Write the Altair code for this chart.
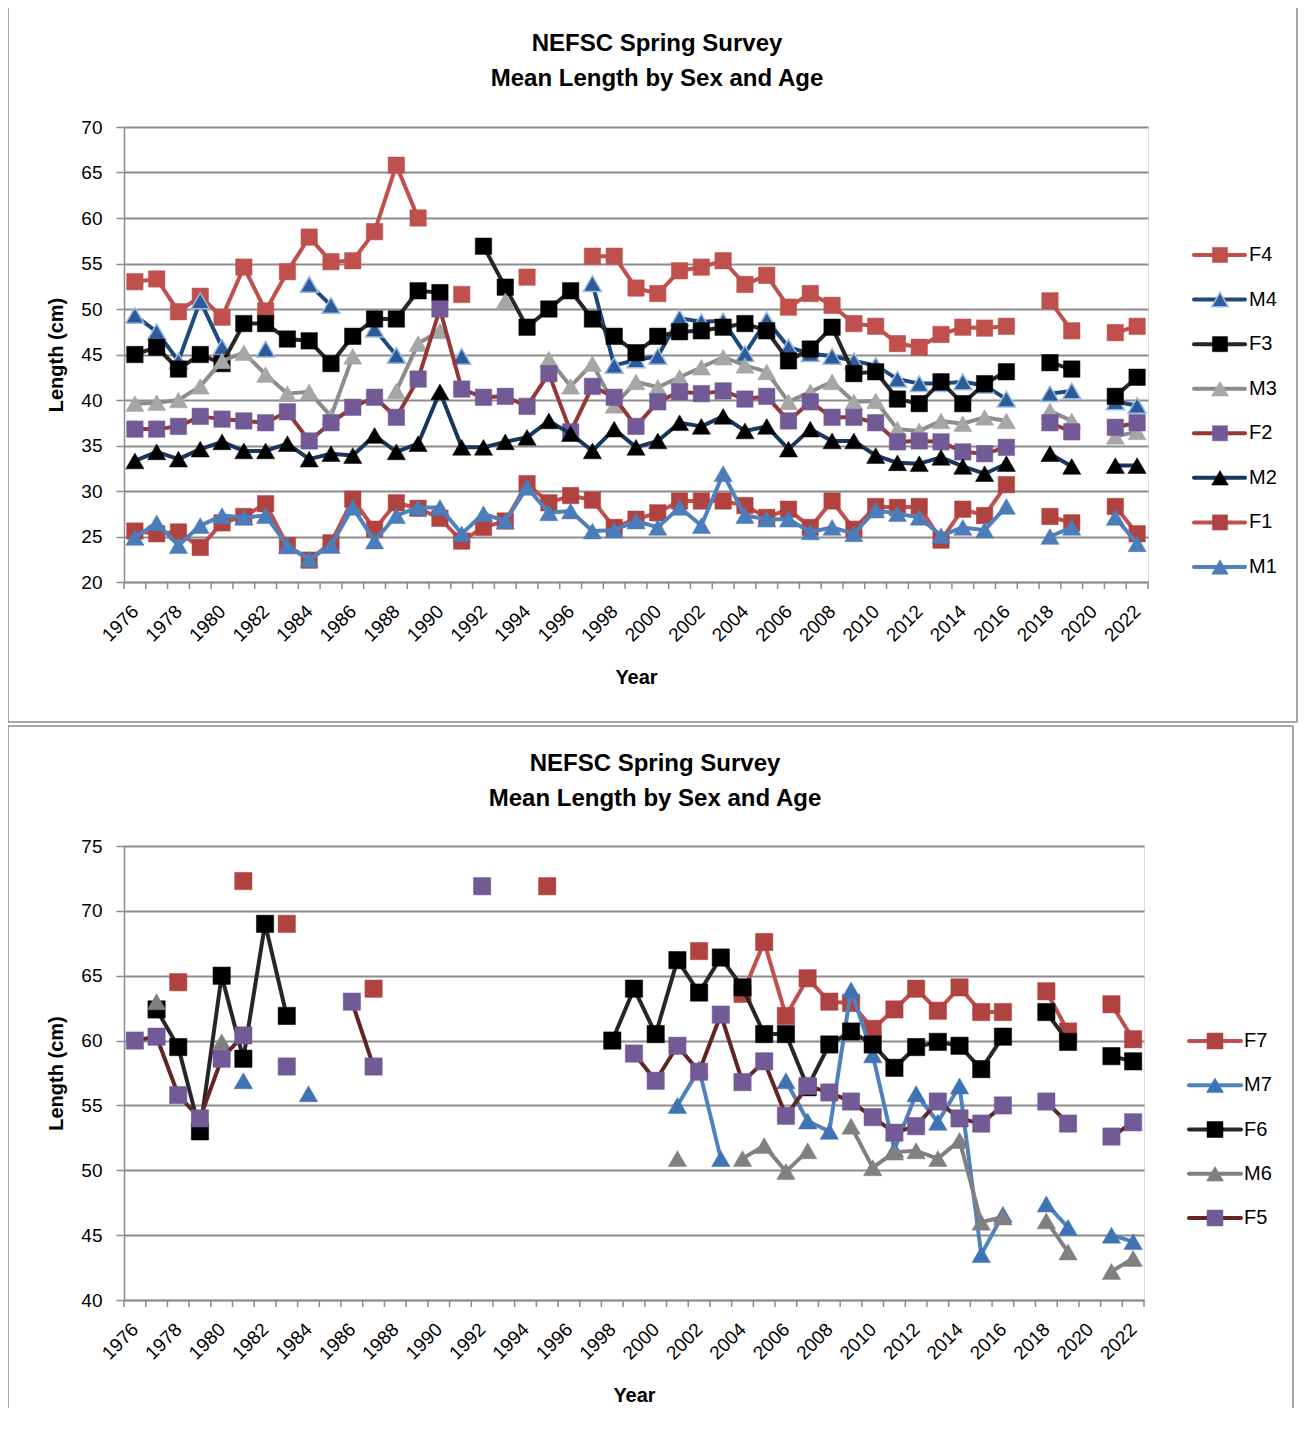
import altair as alt
import pandas as pd

YEARS = list(range(1976, 2023))

TITLE_LINES = ["NEFSC Spring Survey", "Mean Length by Sex and Age"]
X_TITLE = "Year"
Y_TITLE = "Length (cm)"

# ---------------- top panel (ages 1-4) ----------------
TOP_SERIES = ["F4", "M4", "F3", "M3", "F2", "M2", "F1", "M1"]
F4 = [53.0, 53.3, 49.7, 51.4, 49.1, 54.6, 49.8, 54.1, 57.9, 55.2,
      55.3, 58.5, 65.8, 60.0, None, 51.6, None, None, 53.5, None,
      None, 55.8, 55.8, 52.3, 51.7, 54.2, 54.6, 55.3, 52.7, 53.7,
      50.2, 51.7, 50.4, 48.4, 48.1, 46.2, 45.8, 47.2, 48.0, 47.9,
      48.1, None, 50.9, 47.6, None, 47.4, 48.1]
M4 = [49.3, 47.5, 44.3, 50.9, 45.8, None, 45.6, None, 52.7, 50.4,
      None, 47.8, 44.9, None, None, 44.8, None, None, None, None,
      None, 52.8, 43.8, 44.4, 44.8, 49.0, 48.6, 48.7, 45.1, 48.8,
      45.8, 45.1, 44.8, 44.3, 43.8, 42.3, 41.8, 41.8, 42.0, 41.6,
      40.1, None, 40.7, 41.0, None, 39.8, 39.4]
F3 = [45.0, 45.8, 43.4, 45.0, 44.0, 48.4, 48.4, 46.7, 46.5, 44.0,
      47.0, 48.9, 48.9, 52.0, 51.8, None, 56.9, 52.4, 48.0, 50.0,
      52.0, 48.9, 47.0, 45.2, 47.0, 47.5, 47.6, 48.0, 48.4, 47.6,
      44.3, 45.6, 48.0, 42.9, 43.1, 40.1, 39.6, 42.0, 39.6, 41.8,
      43.1, None, 44.1, 43.4, None, 40.4, 42.5]
M3 = [39.6, 39.7, 40.0, 41.5, 44.3, 45.2, 42.8, 40.7, 40.9, 38.2,
      44.8, None, 41.0, 46.2, 47.6, None, None, 50.9, None, 44.5,
      41.5, 44.0, 39.4, 42.0, 41.4, 42.5, 43.6, 44.7, 43.8, 43.1,
      39.8, 40.9, 42.0, 39.8, 39.9, 36.8, 36.6, 37.7, 37.4, 38.1,
      37.7, None, 38.8, 37.7, None, 36.0, 36.5]
F2 = [36.8, 36.8, 37.1, 38.2, 37.9, 37.7, 37.5, 38.7, 35.5, 37.5,
      39.2, 40.3, 38.1, 42.3, 50.0, 41.2, 40.3, 40.4, 39.3, 42.9,
      36.5, 41.5, 40.3, 37.1, 39.8, 40.9, 40.7, 41.0, 40.1, 40.4,
      37.7, 39.8, 38.1, 38.1, 37.5, 35.4, 35.5, 35.4, 34.3, 34.1,
      34.8, None, 37.5, 36.5, None, 37.0, 37.5]
M2 = [33.3, 34.3, 33.5, 34.6, 35.4, 34.4, 34.4, 35.2, 33.5, 34.1,
      33.9, 36.1, 34.3, 35.2, 40.9, 34.8, 34.8, 35.4, 35.9, 37.7,
      36.3, 34.4, 36.8, 34.8, 35.5, 37.5, 37.1, 38.2, 36.6, 37.1,
      34.6, 36.8, 35.5, 35.5, 33.9, 33.1, 33.0, 33.7, 32.7, 31.9,
      33.0, None, 34.1, 32.7, None, 32.8, 32.8]
F1 = [25.6, 25.3, 25.5, 23.8, 26.5, 27.2, 28.6, 24.0, 22.4, 24.3,
      29.1, 25.8, 28.7, 28.1, 27.0, 24.5, 26.0, 26.7, 30.8, 28.7,
      29.5, 29.0, 26.0, 26.9, 27.6, 28.9, 28.9, 28.9, 28.4, 27.1,
      28.0, 26.0, 28.9, 25.8, 28.3, 28.2, 28.3, 24.6, 28.0, 27.3,
      30.7, None, 27.2, 26.5, None, 28.3, 25.3]
M1 = [24.9, 26.5, 24.0, 26.2, 27.3, 27.1, 27.3, 24.0, 22.5, 24.0,
      28.2, 24.5, 27.3, 28.2, 28.2, 25.3, 27.5, 26.7, 30.4, 27.6,
      27.8, 25.6, 25.7, 26.7, 26.0, 28.2, 26.2, 31.9, 27.3, 26.9,
      26.9, 25.5, 26.0, 25.3, 27.9, 27.5, 27.1, 25.1, 26.0, 25.7,
      28.3, None, 25.0, 26.0, None, 27.1, 24.2]
TOP_VALUES = [F4, M4, F3, M3, F2, M2, F1, M1]
TOP_Y_TICKS = list(range(20, 71, 5))

# ---------------- bottom panel (ages 5-7) ----------------
BOTTOM_SERIES = ["F7", "M7", "F6", "M6", "F5"]
F7 = [None, None, 64.5, None, None, 72.3, None, 69.0, None, None,
      None, 64.0, None, None, None, None, None, None, None, 71.9,
      None, None, None, None, None, None, 66.9, None, 63.6, 67.6,
      61.9, 64.8, 63.0, 62.9, 60.9, 62.4, 64.0, 62.3, 64.1, 62.2,
      62.2, None, 63.8, 60.7, None, 62.8, 60.1]
M7 = [None, None, None, None, None, 56.9, None, None, 55.9, None,
      None, None, None, None, None, None, None, None, None, None,
      None, None, None, None, None, 55.0, 57.8, 50.9, None, None,
      56.9, 53.8, 53.0, 63.9, 58.9, 51.6, 55.9, 53.7, 56.5, 43.5,
      46.6, None, 47.4, 45.6, None, 45.0, 44.5]
F6 = [None, 62.4, 59.5, 53.0, 65.0, 58.6, 69.0, 61.9, None, None,
      None, None, None, None, None, None, None, None, None, None,
      None, None, 60.0, 64.0, 60.5, 66.2, 63.7, 66.4, 64.1, 60.5,
      60.5, 56.4, 59.7, 60.7, 59.7, 57.9, 59.5, 59.9, 59.6, 57.8,
      60.3, None, 62.2, 59.9, None, 58.8, 58.4]
M6 = [None, 63.0, None, None, 59.9, None, None, None, None, None,
      None, None, None, None, None, None, None, None, None, None,
      None, None, None, None, None, 50.9, None, None, 50.9, 51.9,
      49.9, 51.5, None, 53.4, 50.2, 51.4, 51.5, 50.9, 52.3, 46.0,
      46.4, None, 46.1, 43.7, None, 42.2, 43.2]
F5 = [60.0, 60.3, 55.8, 54.0, 58.6, 60.4, None, 58.0, None, None,
      63.0, 58.0, None, None, None, None, 71.9, None, None, None,
      None, None, None, 59.0, 56.9, 59.6, 57.6, 62.0, 56.8, 58.4,
      54.2, 56.5, 56.0, 55.3, 54.1, 52.9, 53.4, 55.3, 54.0, 53.6,
      55.0, None, 55.3, 53.6, None, 52.6, 53.7]
BOTTOM_VALUES = [F7, M7, F6, M6, F5]
BOTTOM_Y_TICKS = list(range(40, 76, 5))

# ---------------- styles ----------------
FONT = "Liberation Sans"
GRID = "#8C8C8C"
BORDER = "#8A8A8A"

STYLE = {
    "F4": dict(line="#C0504D", shape="square", fill="#C0504D", stroke="#C0504D"),
    "M4": dict(line="#1F497D", shape="triangle-up", fill="#2B5C99", stroke="#9BBBE4"),
    "F3": dict(line="#262626", shape="square", fill="#000000", stroke="#000000"),
    "M3": dict(line="#8C8C8C", shape="triangle-up", fill="#A6A6A6", stroke="#A6A6A6"),
    "F2": dict(line="#953735", shape="square", fill="#725A97", stroke="#725A97"),
    "M2": dict(line="#17375E", shape="triangle-up", fill="#000000", stroke="#000000"),
    "F1": dict(line="#C0504D", shape="square", fill="#B0423F", stroke="#B0423F"),
    "M1": dict(line="#4F81BD", shape="triangle-up", fill="#4A7DBA", stroke="#4A7DBA"),
    "F7": dict(line="#C0504D", shape="square", fill="#B0423F", stroke="#B0423F"),
    "M7": dict(line="#4F81BD", shape="triangle-up", fill="#3F74B4", stroke="#3F74B4"),
    "F6": dict(line="#262626", shape="square", fill="#000000", stroke="#000000"),
    "M6": dict(line="#808080", shape="triangle-up", fill="#808080", stroke="#808080"),
    "F5": dict(line="#632523", shape="square", fill="#725A97", stroke="#725A97"),
}


def long_frame(names, lists):
    rows = []
    for order, (name, vals) in enumerate(zip(names, lists)):
        seg = 0
        prev = False
        for yr, v in zip(YEARS, vals):
            if v is None:
                if prev:
                    seg += 1
                prev = False
                continue
            rows.append({"series": name, "year": yr, "value": v,
                         "seg": f"{name}-{seg}", "order": order})
            prev = True
    return pd.DataFrame(rows)


def panel(names, lists, ydom, yticks, w, h, box, closed, title_pos, leg, sq_size, tri_size):
    df = long_frame(names, lists)
    x_enc = alt.X(
        "year:Q",
        scale=alt.Scale(domain=[YEARS[0] - 0.5, YEARS[-1] + 0.5], nice=False, zero=False),
        axis=alt.Axis(
            values=YEARS[::2], format="d", labelAngle=-45, labelAlign="right",
            labelBaseline="middle", labelPadding=26, tickSize=0, grid=False,
            domainColor=GRID, domainWidth=1.5, labelFont=FONT, labelFontSize=19,
            labelColor="#000000", labelOverlap=False, labelFlush=False,
            title=X_TITLE, titleFont=FONT, titleFontSize=20, titleFontWeight="bold",
            titleColor="#000000", titleX=w / 2, titleY=95, titleBaseline="middle",
            titleAlign="center",
        ),
    )
    y_enc = alt.Y(
        "value:Q",
        scale=alt.Scale(domain=ydom, nice=False, zero=False),
        axis=alt.Axis(
            values=yticks, grid=True, gridColor=GRID, gridWidth=2, tickSize=8,
            tickColor=GRID, tickWidth=1.5, domainColor=GRID, domainWidth=1.5,
            labelFont=FONT, labelFontSize=19, labelColor="#000000", labelPadding=14,
            title=Y_TITLE, titleFont=FONT, titleFontSize=20, titleFontWeight="bold",
            titleColor="#000000", titleX=-68, titleY=h / 2, titleAngle=-90,
            titleBaseline="middle", titleAlign="center",
        ),
    )

    one = pd.DataFrame({"k": [0]})
    bl, br, bt, bb = box
    frame = alt.Chart(one).mark_rule(color=BORDER, strokeWidth=1.5)
    layers = [
        frame.encode(x=alt.value(bl), x2=alt.value(br), y=alt.value(bt)),
        frame.encode(x=alt.value(bl), y=alt.value(bt), y2=alt.value(bb)),
        frame.encode(x=alt.value(br), y=alt.value(bt), y2=alt.value(bb)),
    ]
    if closed:
        layers.append(frame.encode(x=alt.value(bl), x2=alt.value(br), y=alt.value(bb)))
    for name in names:
        st = STYLE[name]
        size = sq_size if st["shape"] == "square" else tri_size
        base = alt.Chart(df).transform_filter(alt.datum.series == name)
        layers.append(
            base.mark_line(color=st["line"], strokeWidth=4, strokeJoin="round", strokeCap="round").encode(
                x=x_enc, y=y_enc, detail="seg:N", order="year:Q"
            )
        )
        layers.append(
            base.mark_point(shape=st["shape"], filled=True, fill=st["fill"], stroke=st["stroke"],
                            strokeWidth=1.5 if st["fill"] != st["stroke"] else 0.5,
                            size=size, opacity=1).encode(x=x_enc, y=y_enc)
        )
    bounds = pd.DataFrame({"year": [y - 0.5 for y in YEARS] + [YEARS[-1] + 0.5]})
    layers.append(
        alt.Chart(bounds).mark_rule(color=GRID, strokeWidth=1.5).encode(
            x=x_enc, y=alt.value(h), y2=alt.value(h + 7)
        )
    )
    for i, line in enumerate(TITLE_LINES):
        layers.append(
            alt.Chart(pd.DataFrame({"t": [line]})).mark_text(
                font=FONT, fontSize=24, fontWeight="bold", color="#000000",
                align="center", baseline="middle"
            ).encode(text="t:N", x=alt.value(title_pos[0]), y=alt.value(title_pos[1 + i]))
        )
    plot = alt.layer(*layers)

    leg_df = pd.DataFrame({"series": names, "rank": list(range(len(names)))})
    ly = alt.Y("rank:Q", scale=alt.Scale(domain=[0, len(names) - 1], range=[leg["top"], leg["bottom"]]),
               axis=None)
    leg_layers = []
    for name in names:
        st = STYLE[name]
        size = sq_size if st["shape"] == "square" else tri_size
        b = alt.Chart(leg_df).transform_filter(alt.datum.series == name)
        leg_layers.append(
            b.mark_rule(color=st["line"], strokeWidth=4, strokeCap="round").encode(
                x=alt.value(leg["x0"]), x2=alt.value(leg["x1"]), y=ly
            )
        )
        leg_layers.append(
            b.mark_point(shape=st["shape"], filled=True, fill=st["fill"], stroke=st["stroke"],
                         strokeWidth=1.5 if st["fill"] != st["stroke"] else 0.5,
                         size=size * 0.85, opacity=1).encode(x=alt.value(leg["xm"]), y=ly)
        )
    leg_layers.append(
        alt.Chart(leg_df).mark_text(font=FONT, fontSize=20, color="#000000", align="left",
                                    baseline="middle").encode(
            x=alt.value(leg["xt"]), y=ly, text="series:N"
        )
    )
    legend = alt.layer(*leg_layers)
    return alt.layer(plot, legend).resolve_scale(y="independent").properties(width=w, height=h)


top = panel(
    TOP_SERIES, TOP_VALUES, [20, 70], TOP_Y_TICKS, 1024, 455,
    box=(-116, 1173, -121, 595), closed=True, title_pos=(533, -83, -48),
    leg=dict(top=128, bottom=440, x0=1070, x1=1121, xm=1096, xt=1125),
    sq_size=270, tri_size=330,
)
bottom = panel(
    BOTTOM_SERIES, BOTTOM_VALUES, [40, 75], BOTTOM_Y_TICKS, 1020, 454,
    box=(-116, 1169, -120, 562), closed=False, title_pos=(531, -82, -47),
    leg=dict(top=195, bottom=372, x0=1065, x1=1117, xm=1091, xt=1120),
    sq_size=300, tri_size=340,
)

chart = alt.vconcat(top, bottom, spacing=0).properties(
    padding={"top": -4, "left": -2, "right": 0, "bottom": 0}
).configure_view(stroke=None).configure(background="white")

chart.save("out.html", embed_options={"renderer": "svg", "actions": False})
